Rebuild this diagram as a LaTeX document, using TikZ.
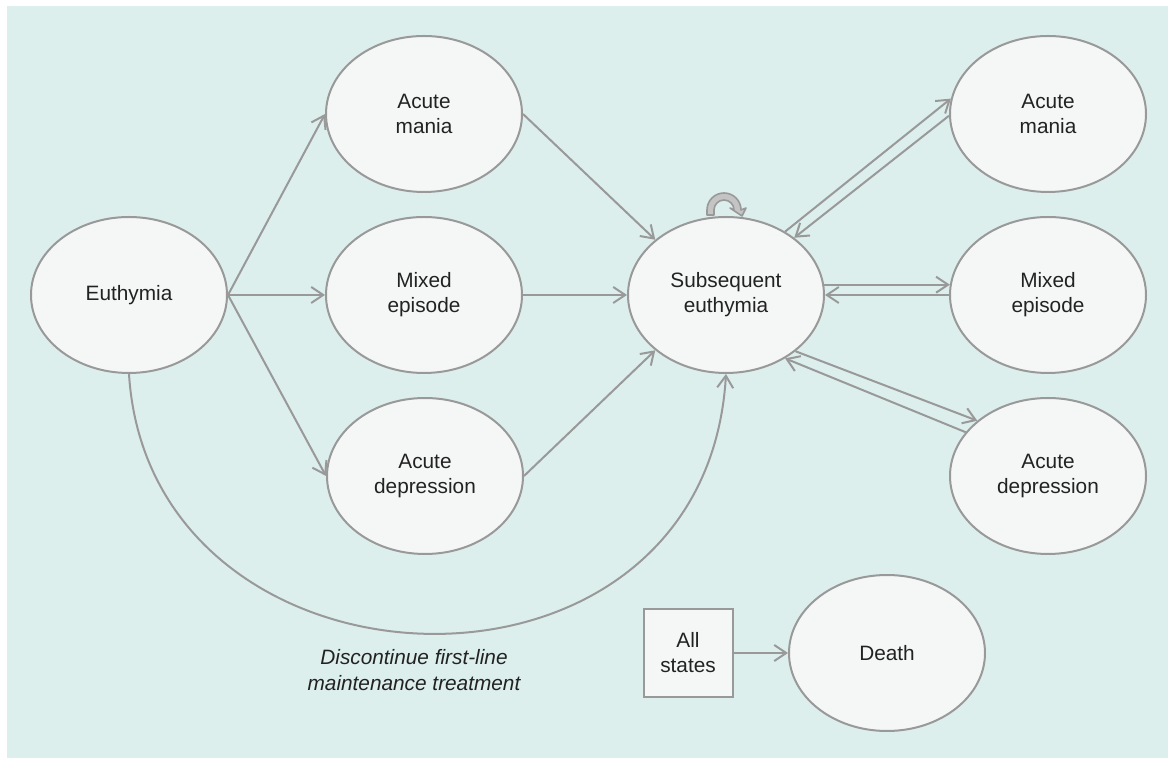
\documentclass[tikz,border=0pt]{standalone}
\usepackage{fontspec}
\setmainfont{Liberation Sans}
\usetikzlibrary{shapes.geometric,arrows.meta}
\definecolor{bgc}{HTML}{DCEFED}
\definecolor{nodefill}{HTML}{F5F7F6}
\definecolor{edgec}{HTML}{999999}
\definecolor{txt}{HTML}{222222}
\definecolor{loopfill}{HTML}{C4C4C4}
\begin{document}
\begin{tikzpicture}[x=0.5pt,y=-0.5pt,
  state/.style={ellipse, draw=edgec, fill=nodefill, line width=1pt,
    minimum width=98pt, minimum height=78pt, inner sep=0pt, align=center,
    text=txt, font=\fontsize{10.4pt}{12.5pt}\selectfont},
  boxstate/.style={rectangle, draw=edgec, fill=nodefill, line width=1pt,
    minimum width=44.5pt, minimum height=44pt, inner sep=0pt, align=center,
    text=txt, font=\fontsize{10.4pt}{12.5pt}\selectfont},
  conn/.style={draw=edgec, line width=1pt, -{Straight Barb[length=6pt,width=8pt]}},
  lbl/.style={align=center, text=txt, font=\fontsize{10.4pt}{12.8pt}\selectfont\itshape},
]
\useasboundingbox (0,0) rectangle (1168,758);
\fill[bgc] (7,6) rectangle (1168,758);

\node[state] (eu) at (129,295) {Euthymia};
\node[state] (aml) at (424,114) {Acute\\mania};
\node[state] (mxl) at (424,295) {Mixed\\episode};
\node[state] (adl) at (425,476) {Acute\\depression};
\node[state] (se) at (726,295) {Subsequent\\euthymia};
\node[state] (amr) at (1048,114) {Acute\\mania};
\node[state] (mxr) at (1048,295) {Mixed\\episode};
\node[state] (adr) at (1048,476) {Acute\\depression};
\node[boxstate] (all) at (688,653) {All\\states};
\node[state] (death) at (887,653) {Death};
\node[lbl] (disc) at (414,670) {Discontinue first-line\\maintenance treatment};

% left fan
\draw[conn] (eu.east) -- (aml.west);
\draw[conn] (eu.east) -- (mxl.west);
\draw[conn] (eu.east) -- (adl.west);
% into subsequent euthymia
\draw[conn] (aml.east) -- (se.142);
\draw[conn] (mxl.east) -- (se.west);
\draw[conn] (adl.east) -- (se.218);
\draw[conn] (eu.south) .. controls (150,710) and (705,730) .. (se.south);
% right pairs
\draw[conn] (se.47) -- (amr.171);
\draw[conn] (amr.181) -- (se.40);
\draw[conn] (se.6) -- (mxr.174);
\draw[conn] (mxr.180) -- (se.0);
\draw[conn] (se.-39) -- (adr.142.5);
\draw[conn] (adr.152.6) -- (se.-47.4);
% death
\draw[conn] (all.east) -- (death.west);

% self loop
\draw[draw=edgec, fill=loopfill, line width=0.8pt, line join=round]
  (707,215) -- (707,210) arc (180:0:8.5pt) -- (746,208) -- (742,216)
  -- (730,208) -- (734,210) arc (0:180:5pt) -- (714,215) -- cycle;
\end{tikzpicture}
\end{document}
